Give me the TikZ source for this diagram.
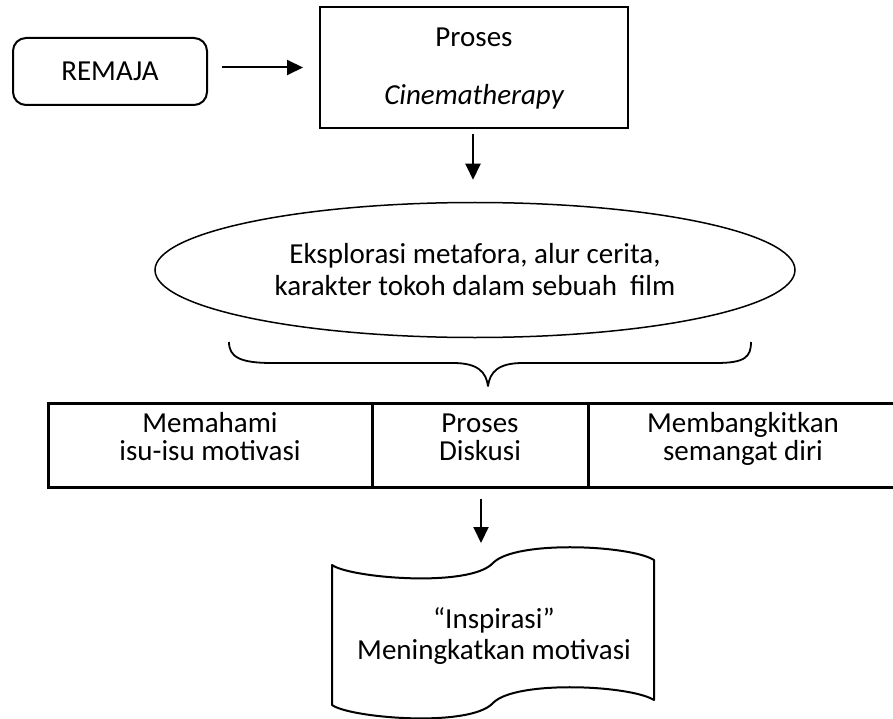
\documentclass[tikz,border=0pt]{standalone}
\usepackage{fontspec}
\setmainfont{Carlito}
\usetikzlibrary{arrows.meta,shapes.geometric,calc}
\begin{document}
\begin{tikzpicture}[x=1pt,y=-1pt,
  font=\fontsize{29}{31}\selectfont,
  box/.style={draw,line width=2pt,inner sep=0pt},
  arr/.style={line width=2pt,-{Triangle[length=16pt,width=15pt]}},
  cell/.style={draw,line width=3pt,inner sep=0pt,minimum height=84pt},
  txt/.style={anchor=base,inner sep=0pt,align=center},
  shapeline/.style={line width=1.8pt,line join=round}
]
\useasboundingbox (0,0) rectangle (893,719);
% top row
\node[box,rounded corners=13pt,minimum width=194pt,minimum height=67pt] (remaja) at (110,71.5) {REMAJA};
\node[box,minimum width=308pt,minimum height=121pt] (proses) at (474,67.5) {};
\node[txt] (p1) at (474,47) {Proses};
\node[txt] (p2) at (474,105) {\itshape Cinematherapy};
\draw[arr] ($(remaja.east)+(14,-4)$) -- ($(proses.west)+(-16,0)$);
% ellipse
\node[draw,ellipse,line width=1.5pt,minimum width=640pt,minimum height=135pt,inner sep=0pt] (ell) at (475,270) {};
\node[txt] (e1) at (475,263) {Eksplorasi metafora, alur cerita,};
\node[txt] (e2) at (475,295) {karakter tokoh dalam sebuah~ film};
\draw[arr] ($(proses.south)+(-1,5)$) -- ($(ell.north)+(-2,-22)$);
% brace
\draw[shapeline] (229,342) .. controls (229,357) and (240,363) .. (272,363)
  -- (453,363) .. controls (478,363) and (486,372) .. (488,386)
  .. controls (490,372) and (498,363) .. (523,363)
  -- (716,363) .. controls (745,363) and (751,357) .. (751,342);
% table
\node[cell,minimum width=324pt] (c1) at (210,445) {};
\node[cell,minimum width=216pt] (c2) at (480,445) {};
\node[cell,minimum width=310pt] (c3) at (743,445) {};
\node[txt] (m1) at (210,432) {Memahami};
\node[txt] (m2) at (210,460) {isu-isu motivasi};
\node[txt] (n1) at (480,432) {Proses};
\node[txt] (n2) at (480,460) {Diskusi};
\node[txt] (k1) at (743,432) {Membangkitkan};
\node[txt] (k2) at (743,460) {semangat diri};
% document
\coordinate (docin) at (481,543);
\draw[arr] ($(c2.south)+(1,10)$) -- (docin);
\draw[line width=2pt,line join=round] (332,565) .. controls (350,578) and (470,588) .. (493,563)
  .. controls (515,540) and (630,545) .. (654,560)
  -- (654,700) .. controls (630,685) and (515,680) .. (493,703)
  .. controls (470,728) and (350,718) .. (332,705) -- cycle;
\node[txt] (d1) at (494,628) {“Inspirasi”};
\node[txt] (d2) at (494,659) {Meningkatkan motivasi};
\end{tikzpicture}
\end{document}
